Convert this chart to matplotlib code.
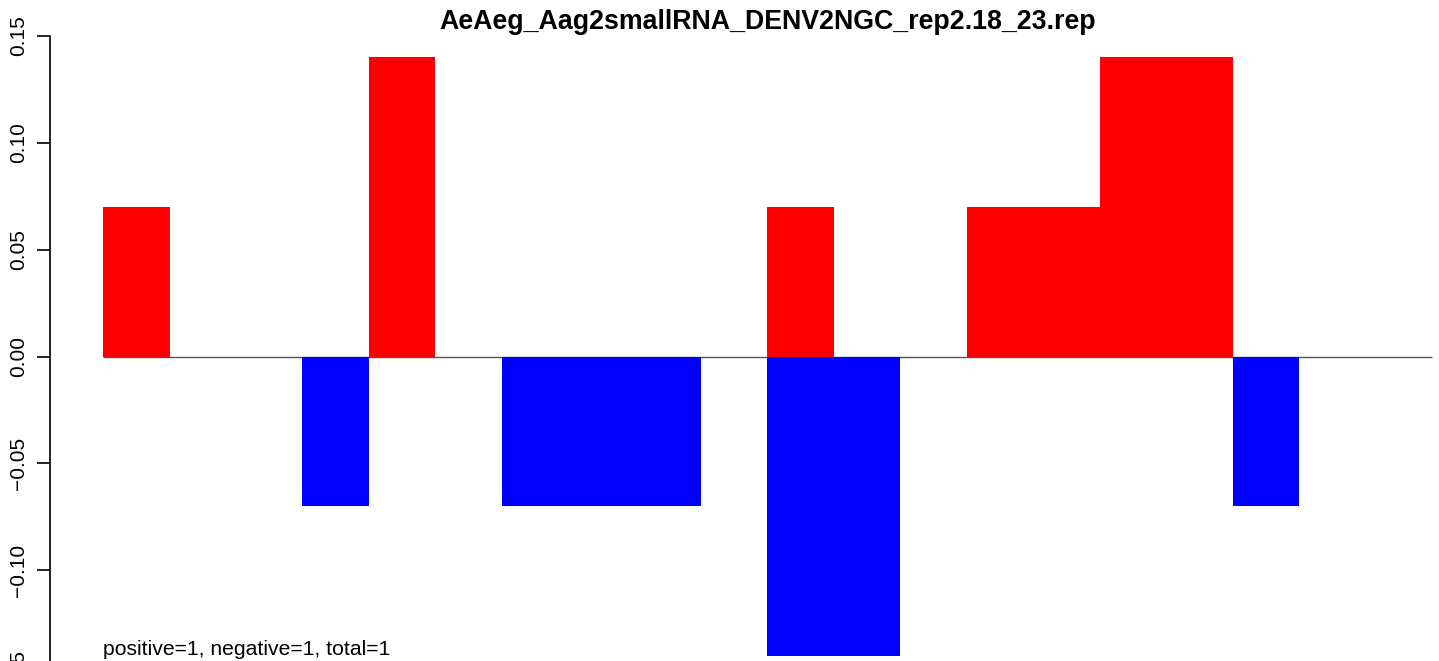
import matplotlib
matplotlib.use("Agg")
import matplotlib.pyplot as plt
import numpy as np

plt.rcParams['font.family'] = ['Liberation Sans', 'DejaVu Sans']

title = "AeAeg_Aag2smallRNA_DENV2NGC_rep2.18_23.rep"
note = "positive=1, negative=1, total=1"

# per-position fractions, 20 positions
positions = list(range(1, 21))
pos_vals = [0.07, 0, 0, 0, 0.14, 0, 0, 0, 0, 0,
            0.07, 0, 0, 0.07, 0.07, 0.14, 0.14, 0, 0, 0]
neg_vals = [0, 0, 0, -0.07, 0, 0, -0.07, -0.07, -0.07, 0,
            -0.14, -0.14, 0, 0, 0, 0, 0, -0.07, 0, 0]
yticks = [-0.15, -0.10, -0.05, 0.00, 0.05, 0.10, 0.15]

W, H = 1439, 661
fig = plt.figure(figsize=(W / 100, H / 100), dpi=100)

# plot region in pixels (runs off the bottom/right edge)
left_px, right_px = 50, 1485
top_px, bot_px = 33.5, 679.5
ax = fig.add_axes([left_px / W, (H - bot_px) / H,
                   (right_px - left_px) / W, (bot_px - top_px) / H])

n = len(positions)
x = np.arange(n)
ax.hlines(0, 0, n, color='#555555', linewidth=1.0, zorder=1)
ax.bar(x, pos_vals, width=1, align='edge', color='#ff0000', linewidth=0, zorder=2)
ax.bar(x, neg_vals, width=1, align='edge', color='#0000ff', linewidth=0, zorder=2)

ax.set_xlim(-0.8, n + 0.8)
ax.set_ylim(-0.1512, 0.1512)

for s in ['top', 'right', 'bottom']:
    ax.spines[s].set_visible(False)
ax.spines['left'].set_bounds(-0.15, 0.15)
ax.spines['left'].set_linewidth(1.2)
ax.set_xticks([])
ax.set_yticks(yticks)
ax.set_yticklabels([f"{v:.2f}".replace('-', '\u2212') for v in yticks],
                   rotation=90, va='center', fontsize=15)
ax.tick_params(axis='y', length=9.5, width=1.2, pad=6)

ax.text(0, -0.1395, note, fontsize=15.2, ha='left', va='baseline')
fig.text((left_px + right_px) / 2 / W, 1 - 22 / H, title,
         fontsize=19.3, fontweight='bold', ha='center', va='center')

fig.savefig("out.png", dpi=100)
